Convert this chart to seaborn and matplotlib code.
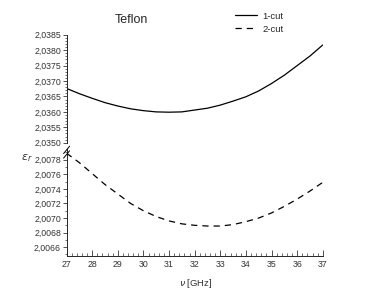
import matplotlib
matplotlib.use("Agg")
import numpy as np
import pandas as pd
import matplotlib.pyplot as plt
import matplotlib.ticker as mticker
import seaborn as sns

sns.set_style("white")
plt.rcParams['font.family'] = ['Liberation Sans', 'DejaVu Sans']

freq = [27, 27.5, 28, 28.5, 29, 29.5, 30, 30.5, 31, 31.5, 32,
        32.5, 33, 33.5, 34, 34.5, 35, 35.5, 36, 36.5, 37]
cut1 = [2.03676, 2.03659, 2.03644, 2.03630, 2.03619, 2.03610, 2.03604,
        2.03600, 2.03599, 2.03600, 2.03606, 2.03612, 2.03622, 2.03635,
        2.03649, 2.03668, 2.03692, 2.03719, 2.03750, 2.03781, 2.03817]
cut2 = [2.00789, 2.00776, 2.00761, 2.00746, 2.00733, 2.00720, 2.00710,
        2.00702, 2.00696, 2.00692, 2.00690, 2.00689, 2.00689, 2.00691,
        2.00695, 2.00700, 2.00707, 2.00716, 2.00726, 2.00737, 2.00749]

df1 = pd.DataFrame({'f': freq, 'e': cut1})
df2 = pd.DataFrame({'f': freq, 'e': cut2})

fig = plt.figure(figsize=(3.74, 3.05), dpi=100)
ax_top = fig.add_axes([0.178, 0.532, 0.685, 0.354])
ax_bot = fig.add_axes([0.178, 0.161, 0.685, 0.351])

sns.lineplot(data=df1, x='f', y='e', ax=ax_top, color='black', lw=0.9, label='1-cut')
sns.lineplot(data=df2, x='f', y='e', ax=ax_bot, color='black', lw=0.9, label='2-cut')
ax_bot.lines[0].set_dashes([5, 4])

comma = mticker.FuncFormatter(lambda v, p: f"{v:.4f}".replace('.', ','))

for ax in (ax_top, ax_bot):
    ax.set_xlim(27, 37)
    ax.set_xlabel('')
    ax.set_ylabel('')
    for s in ('top', 'right'):
        ax.spines[s].set_visible(False)
    ax.spines['left'].set_linewidth(0.7)
    ax.spines['bottom'].set_linewidth(0.7)
    ax.yaxis.set_major_formatter(comma)
    ax.tick_params(axis='y', which='major', direction='out', length=3, width=0.6,
                   labelsize=6.3, pad=1, colors='#333333', left=True)
    ax.tick_params(axis='y', which='minor', direction='out', length=1.5, width=0.5,
                   left=True, colors='#333333')
    ax.get_legend().remove()

ax_top.set_ylim(2.0350, 2.0385)
ax_top.set_yticks(np.arange(2.0350, 2.03851, 0.0005))
ax_top.yaxis.set_minor_locator(mticker.MultipleLocator(0.0001))
ax_top.spines['bottom'].set_visible(False)
ax_top.set_xticks([])

ax_bot.set_ylim(2.00648, 2.00795)
ax_bot.set_yticks(np.arange(2.0066, 2.00781, 0.0002))
ax_bot.yaxis.set_minor_locator(mticker.MultipleLocator(0.0001))
ax_bot.set_xticks(range(27, 38))
ax_bot.xaxis.set_minor_locator(mticker.MultipleLocator(0.2))
ax_bot.tick_params(axis='x', which='major', direction='in', length=4, width=0.6,
                   labelsize=6.3, pad=3, colors='#333333', bottom=True)
ax_bot.tick_params(axis='x', which='minor', direction='in', length=2, width=0.5,
                   bottom=True, colors='#333333')
ax_bot.set_xlabel(r'$\nu$ [GHz]', fontsize=6.8, color='#333333')
ax_bot.xaxis.set_label_coords(0.505, -0.2)

# break marks on the y axis
for y in (0.4935, 0.5085):
    fig.add_artist(plt.Line2D([0.170, 0.186], [y - 0.012, y + 0.012],
                              color='black', lw=0.7, transform=fig.transFigure))

fig.text(0.055, 0.475, r'$\epsilon_r$', fontsize=8, color='#333333')
fig.text(0.307, 0.925, 'Teflon', fontsize=9)

fig.legend(handles=[ax_top.lines[0], ax_bot.lines[0]], labels=['1-cut', '2-cut'],
           loc='upper left', bbox_to_anchor=(0.605, 0.99), frameon=False,
           fontsize=6.8, handlelength=2.4, handletextpad=0.5, labelspacing=0.45)

fig.savefig('out.png', dpi=100)
